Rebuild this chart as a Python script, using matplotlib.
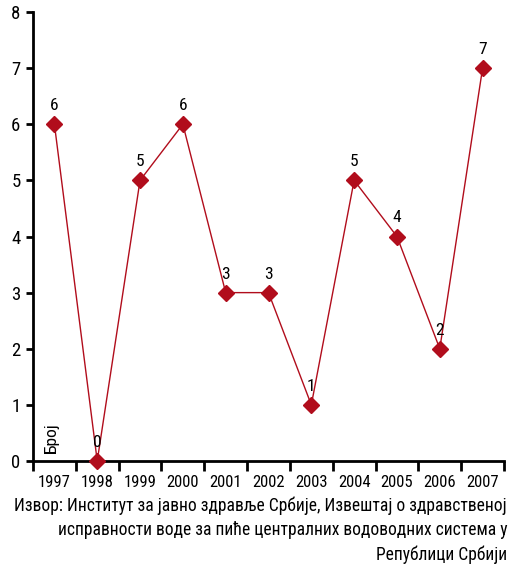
import matplotlib
matplotlib.use("Agg")
import matplotlib.pyplot as plt
from matplotlib import font_manager

years = ["1997", "1998", "1999", "2000", "2001", "2002", "2003", "2004", "2005", "2006", "2007"]
values = [6, 0, 5, 6, 3, 3, 1, 5, 4, 2, 7]
y_ticks = [0, 1, 2, 3, 4, 5, 6, 7, 8]
y_label = "Број"
source_lines = ["Извор: Институт за јавно здравље Србије, Извештај о здравственој",
                "исправности воде за пиће централних водоводних система у",
                "Републици Србији"]

fonts = font_manager.fontManager.ttflist
names = {f.name for f in fonts}
pref = [n for n in ["Roboto Condensed", "Open Sans Condensed", "Liberation Sans Narrow"] if n in names]
if pref:
    plt.rcParams['font.family'] = [pref[0], "DejaVu Sans"]
else:
    plt.rcParams['font.family'] = ["DejaVu Sans"]
    plt.rcParams['font.stretch'] = 'condensed'

red = "#b10d1c"
fig = plt.figure(figsize=(5.12, 5.65), dpi=100)
ax = fig.add_axes([33/512, 1 - 461/565, (504 - 33)/512, (461 - 12)/565])

x = list(range(len(years)))
ax.plot(x, values, color=red, lw=1.0, marker="D", markersize=8.5, markerfacecolor=red,
        markeredgecolor=red, zorder=3, clip_on=False)
for xi, v in zip(x, values):
    ax.annotate(str(v), (xi, v), xytext=(0, 8), textcoords="offset points",
                ha="center", va="bottom", fontsize=12.5, color="black")

ax.set_xlim(-0.5, len(years) - 0.5)
ax.set_ylim(0, 8)
ax.set_yticks(y_ticks)
ax.set_yticklabels([str(t) for t in y_ticks], fontsize=13.5)
ax.set_xticks([i - 0.5 for i in range(len(years) + 1)])
ax.set_xticklabels([])
ax.set_xticks(x, minor=True)
ax.set_xticklabels(years, minor=True, fontsize=12)
ax.tick_params(axis="x", which="minor", length=0, pad=10)
ax.tick_params(axis="x", which="major", length=7, width=2, direction="out")
ax.tick_params(axis="y", length=5, width=2, direction="out", pad=4)
for s in ["top", "right"]:
    ax.spines[s].set_visible(False)
for s in ["left", "bottom"]:
    ax.spines[s].set_linewidth(2)

ax.text(0.022, 0.018, y_label, transform=ax.transAxes, rotation=90, fontsize=12.5,
        ha="left", va="bottom")

# fit the source text to roughly the reference width
renderer = fig.canvas.get_renderer()
target_w = 492
baselines = [511, 535, 560]
probe = fig.text(0, 0, source_lines[0], fontsize=13)
w = probe.get_window_extent(renderer).width
probe.remove()
fs = min(13, 13 * target_w / w)
for line, yy in zip(source_lines, baselines):
    fig.text(507/512, 1 - yy/565, line, ha="right", va="baseline", fontsize=fs)

# keep x tick labels inside their slot
for lab in ax.get_xticklabels(minor=True):
    bw = lab.get_window_extent(renderer).width
    if bw > 36:
        lab.set_fontsize(12 * 36 / bw)

fig.savefig("out.png", dpi=100)
